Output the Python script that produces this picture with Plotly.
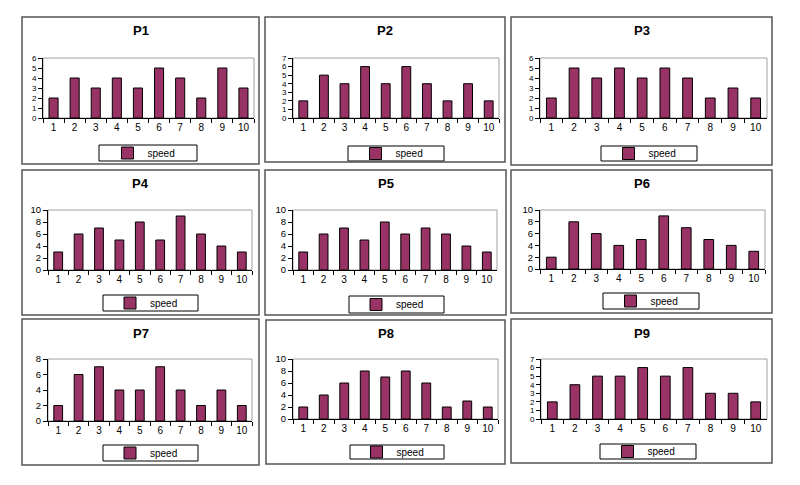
import plotly.graph_objects as go

# ---------------- data ----------------
categories = ["1", "2", "3", "4", "5", "6", "7", "8", "9", "10"]
panel_titles = ["P1", "P2", "P3", "P4", "P5", "P6", "P7", "P8", "P9"]
series_name = "speed"

p1_speed = [2, 4, 3, 4, 3, 5, 4, 2, 5, 3]
p2_speed = [2, 5, 4, 6, 4, 6, 4, 2, 4, 2]
p3_speed = [2, 5, 4, 5, 4, 5, 4, 2, 3, 2]
p4_speed = [3, 6, 7, 5, 8, 5, 9, 6, 4, 3]
p5_speed = [3, 6, 7, 5, 8, 6, 7, 6, 4, 3]
p6_speed = [2, 8, 6, 4, 5, 9, 7, 5, 4, 3]
p7_speed = [2, 6, 7, 4, 4, 7, 4, 2, 4, 2]
p8_speed = [2, 4, 6, 8, 7, 8, 6, 2, 3, 2]
p9_speed = [2, 4, 5, 5, 6, 5, 6, 3, 3, 2]

y_axis_max = [6, 7, 6, 10, 10, 10, 8, 10, 7]
y_axis_step = [1, 1, 1, 2, 2, 2, 2, 2, 1]

all_speeds = [p1_speed, p2_speed, p3_speed, p4_speed, p5_speed,
              p6_speed, p7_speed, p8_speed, p9_speed]

# ---------------- layout geometry (pixels) ----------------
W, H = 800, 485
panel_boxes = [
    (22, 17, 259, 164), (265, 17, 505, 162), (511, 17, 772, 165),
    (22, 170, 259, 315), (265, 170, 506, 315), (511, 170, 772, 313),
    (22, 319, 259, 465), (266, 320, 505, 464), (511, 319, 772, 463),
]
plot_areas = [  # x0, x1, ytop, ybottom
    (43, 254, 58, 118), (293, 499, 58, 118), (540, 767, 58, 118),
    (48, 252, 210, 270), (293, 497, 210, 270), (540, 765, 210, 269),
    (48, 252, 359, 421), (293, 498, 359, 419), (541, 767, 359, 419),
]
legend_boxes = [
    (99, 145, 197, 161), (348, 146, 444, 161), (601, 146, 697, 161),
    (103, 295, 198, 311), (349, 296, 444, 313), (603, 293, 699, 309),
    (103, 445, 198, 461), (350, 445, 444, 459), (600, 444, 696, 459),
]
title_ys = [30, 30, 30, 183, 183, 183, 333, 333, 333]

FONT = "Arial, Liberation Sans, sans-serif"
BAR_COLOR = "#993366"


def px(x):
    return x / W


def py(y):
    return 1 - y / H


fig = go.Figure()
layout = dict(
    width=W, height=H,
    margin=dict(l=0, r=0, t=0, b=0, autoexpand=False),
    paper_bgcolor="white", plot_bgcolor="white",
    font=dict(family=FONT, size=10, color="black"),
    bargap=0.57,
    shapes=[], annotations=[],
)

for i in range(9):
    n = i + 1
    xs = "x" if n == 1 else f"x{n}"
    ys = "y" if n == 1 else f"y{n}"
    xa = "xaxis" if n == 1 else f"xaxis{n}"
    ya = "yaxis" if n == 1 else f"yaxis{n}"
    lg = "legend" if n == 1 else f"legend{n}"

    fig.add_trace(go.Bar(
        x=categories, y=all_speeds[i], name=series_name,
        xaxis=xs, yaxis=ys, legend=lg, showlegend=True,
        marker=dict(color=BAR_COLOR, line=dict(color="black", width=1)),
        hoverinfo="x+y",
    ))

    x0, x1, yt, yb = plot_areas[i]
    ytick_size = 8 if y_axis_step[i] == 1 else 9.5
    layout[xa] = dict(
        domain=[px(x0), px(x1)], anchor=ys, type="category",
        showline=True, linecolor="black", linewidth=1,
        ticks="outside", tickson="boundaries", ticklen=4, tickcolor="black",
        showgrid=False, zeroline=False, fixedrange=True, tickangle=0,
        automargin=False,
        tickfont=dict(size=10, family=FONT, color="black"),
    )
    layout[ya] = dict(
        domain=[py(yb), py(yt)], anchor=xs,
        range=[0, y_axis_max[i]], dtick=y_axis_step[i], tick0=0,
        showline=True, linecolor="black", linewidth=1,
        ticks="outside", ticklen=4, tickcolor="black",
        showgrid=False, zeroline=False, fixedrange=True,
        automargin=False,
        tickfont=dict(size=ytick_size, family=FONT, color="black"),
    )
    # plot-area frame (gray)
    layout["shapes"].append(dict(
        type="rect", xref=f"{xs} domain", yref=f"{ys} domain",
        x0=0, x1=1, y0=0, y1=1, layer="below",
        line=dict(color="#a0a0a0", width=1),
    ))
    # panel border
    bx0, by0, bx1, by1 = panel_boxes[i]
    layout["shapes"].append(dict(
        type="rect", xref="paper", yref="paper",
        x0=px(bx0), x1=px(bx1), y0=py(by1), y1=py(by0),
        line=dict(color="#555555", width=1.5),
    ))
    # legend box
    lx0, ly0, lx1, ly1 = legend_boxes[i]
    layout["shapes"].append(dict(
        type="rect", xref="paper", yref="paper",
        x0=px(lx0), x1=px(lx1), y0=py(ly1), y1=py(ly0),
        line=dict(color="black", width=1), fillcolor="white", layer="below",
    ))
    layout[lg] = dict(
        x=px((lx0 + lx1) / 2 - 4), y=py((ly0 + ly1) / 2),
        xanchor="center", yanchor="middle",
        bgcolor="rgba(0,0,0,0)", borderwidth=0,
        font=dict(size=10, family=FONT, color="black"),
        itemclick=False, itemdoubleclick=False,
        tracegroupgap=0,
    )
    # title
    layout["annotations"].append(dict(
        text=f"<b>{panel_titles[i]}</b>", xref="paper", yref="paper",
        x=px((bx0 + bx1) / 2), y=py(title_ys[i]),
        xanchor="center", yanchor="middle", showarrow=False,
        font=dict(size=13, family=FONT, color="black"),
    ))

fig.update_layout(**layout)
fig.write_html(
    "out.html",
    config={"displayModeBar": False},
    post_script="document.body.style.margin='0';document.body.style.overflow='hidden';",
)
